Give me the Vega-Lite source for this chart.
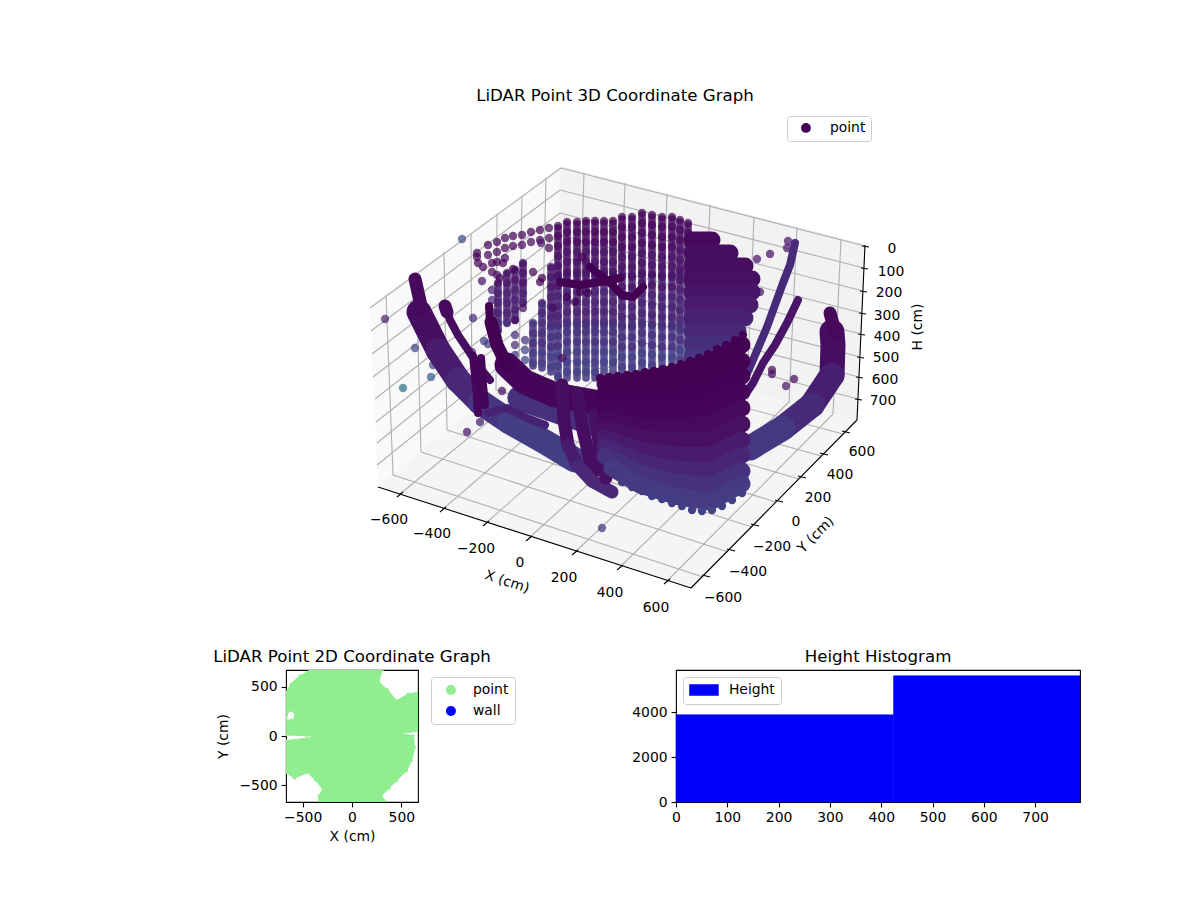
{"$schema":"https://vega.github.io/schema/vega-lite/v6.json","padding":{"left":212,"top":88,"right":0,"bottom":0},"background":"white","bounds":"flush","spacing":49,
"config":{"font":"DejaVu Sans","view":{"stroke":"black","strokeWidth":1.1},"axis":{"grid":false,"domain":false,"labelColor":"black","titleColor":"black","tickColor":"black","tickWidth":1.1,"tickSize":4.9,"labelFontSize":13.9,"titleFontSize":13.9,"titleFontWeight":"normal","labelPadding":4,"labelOverlap":false,"labelFlush":false},"legend":{"labelFontSize":13.9,"labelColor":"black","fillColor":"white","strokeColor":"#cccccc","cornerRadius":3,"title":null},"title":{"fontSize":16.67,"fontWeight":"normal","color":"black","anchor":"middle"}},
"datasets":{
"leftPane":[{"u":370,"v":307},{"u":561,"v":167},{"u":556,"v":341},{"u":378,"v":487}],
"backPane":[{"u":561,"v":167},{"u":865,"v":245},{"u":857,"v":420},{"u":556,"v":341}],
"floorPane":[{"u":378,"v":487},{"u":556,"v":341},{"u":857,"v":420},{"u":691,"v":588}],
"grid":[{"u":400,"v":494,"u2":579,"v2":347},{"u":443,"v":509,"u2":619,"v2":358},{"u":486,"v":523,"u2":661,"v2":369},{"u":529,"v":538,"u2":703,"v2":380},{"u":575,"v":552,"u2":747,"v2":391},{"u":620,"v":567,"u2":789,"v2":402},{"u":667,"v":581,"u2":833,"v2":414},
{"u":393,"v":475,"u2":703,"v2":577},{"u":421,"v":452,"u2":728,"v2":552},{"u":447,"v":430,"u2":752,"v2":527},{"u":472,"v":410,"u2":776,"v2":502},{"u":496,"v":390,"u2":799,"v2":479},{"u":519,"v":371,"u2":821,"v2":456},{"u":542,"v":353,"u2":843,"v2":434},
{"u":393,"v":475,"u2":386,"v2":295},{"u":421,"v":452,"u2":416,"v2":273},{"u":447,"v":430,"u2":444,"v2":252},{"u":472,"v":410,"u2":471,"v2":233},{"u":496,"v":390,"u2":497,"v2":214},{"u":519,"v":371,"u2":522,"v2":196},{"u":542,"v":353,"u2":546,"v2":178},
{"u":579,"v":347,"u2":584,"v2":173},{"u":619,"v":358,"u2":625,"v2":183},{"u":661,"v":369,"u2":667,"v2":194},{"u":703,"v":380,"u2":710,"v2":205},{"u":747,"v":391,"u2":754,"v2":217},{"u":789,"v":402,"u2":797,"v2":227},{"u":833,"v":414,"u2":841,"v2":239},
{"u":370,"v":308,"u2":561,"v2":168},{"u":371,"v":331,"u2":560,"v2":190},{"u":372,"v":354,"u2":560,"v2":213},{"u":373,"v":377,"u2":559,"v2":235},{"u":375,"v":399,"u2":558,"v2":256},{"u":376,"v":422,"u2":558,"v2":278},{"u":377,"v":443,"u2":557,"v2":298},{"u":377,"v":465,"u2":557,"v2":320},
{"u":561,"v":168,"u2":865,"v2":246},{"u":560,"v":190,"u2":864,"v2":268},{"u":560,"v":213,"u2":863,"v2":291},{"u":559,"v":235,"u2":862,"v2":313},{"u":558,"v":256,"u2":861,"v2":334},{"u":558,"v":278,"u2":860,"v2":357},{"u":557,"v":298,"u2":859,"v2":377},{"u":557,"v":320,"u2":858,"v2":399}],
"edges":[{"u":378,"v":487,"u2":691,"v2":588},{"u":691,"v":588,"u2":857,"v2":420},{"u":857,"v":420,"u2":865,"v2":245},
{"u":397,"v":497,"u2":403,"v2":492},{"u":440,"v":512,"u2":446,"v2":507},{"u":483,"v":526,"u2":489,"v2":521},{"u":526,"v":541,"u2":532,"v2":536},{"u":572,"v":555,"u2":578,"v2":550},{"u":617,"v":570,"u2":623,"v2":565},{"u":664,"v":584,"u2":670,"v2":579},
{"u":702,"v":575,"u2":710,"v2":577},{"u":727,"v":549,"u2":735,"v2":551},{"u":751,"v":524,"u2":759,"v2":526},{"u":775,"v":500,"u2":783,"v2":502},{"u":798,"v":476,"u2":806,"v2":478},{"u":820,"v":453,"u2":828,"v2":455},{"u":842,"v":431,"u2":850,"v2":433},
{"u":862,"v":246,"u2":869,"v2":247},{"u":861,"v":268,"u2":868,"v2":269},{"u":860,"v":291,"u2":867,"v2":292},{"u":859,"v":313,"u2":866,"v2":314},{"u":858,"v":334,"u2":865,"v2":335},{"u":857,"v":357,"u2":864,"v2":358},{"u":856,"v":377,"u2":863,"v2":378},{"u":855,"v":399,"u2":862,"v2":400}],
"ticks3d":[{"t":"−600","u":389,"v":520},{"t":"−400","u":432,"v":534},{"t":"−200","u":476,"v":549},{"t":"0","u":520,"v":563},{"t":"200","u":564,"v":578},{"t":"400","u":610,"v":593},{"t":"600","u":656,"v":608},
{"t":"600","u":862,"v":452},{"t":"400","u":840,"v":475},{"t":"200","u":818,"v":498},{"t":"0","u":796,"v":522},{"t":"−200","u":772,"v":547},{"t":"−400","u":748,"v":572},{"t":"−600","u":723,"v":598},
{"t":"0","u":892,"v":249},{"t":"100","u":891,"v":272},{"t":"200","u":889,"v":293},{"t":"300","u":887,"v":316},{"t":"400","u":887,"v":337},{"t":"500","u":886,"v":358},{"t":"600","u":885,"v":380},{"t":"700","u":883,"v":401}],
"cols":[
{"k":"558a","u":558,"v":228,"c":0.03},{"k":"558a","u":558,"v":275,"c":0.03},{"k":"558b","u":558,"v":275,"c":0.08},{"k":"558b","u":558,"v":325,"c":0.08},{"k":"558c","u":558,"v":325,"c":0.16},{"k":"558c","u":558,"v":378,"c":0.16},
{"k":"567a","u":567,"v":224,"c":0.03},{"k":"567a","u":567,"v":275,"c":0.03},{"k":"567b","u":567,"v":275,"c":0.08},{"k":"567b","u":567,"v":325,"c":0.08},{"k":"567c","u":567,"v":325,"c":0.16},{"k":"567c","u":567,"v":378,"c":0.16},
{"k":"577a","u":577,"v":224,"c":0.03},{"k":"577a","u":577,"v":275,"c":0.03},{"k":"577b","u":577,"v":275,"c":0.08},{"k":"577b","u":577,"v":325,"c":0.08},{"k":"577c","u":577,"v":325,"c":0.16},{"k":"577c","u":577,"v":378,"c":0.16},
{"k":"586a","u":586,"v":223,"c":0.03},{"k":"586a","u":586,"v":275,"c":0.03},{"k":"586b","u":586,"v":275,"c":0.08},{"k":"586b","u":586,"v":325,"c":0.08},{"k":"586c","u":586,"v":325,"c":0.16},{"k":"586c","u":586,"v":378,"c":0.16},
{"k":"595a","u":595,"v":223,"c":0.03},{"k":"595a","u":595,"v":275,"c":0.03},{"k":"595b","u":595,"v":275,"c":0.08},{"k":"595b","u":595,"v":325,"c":0.08},{"k":"595c","u":595,"v":325,"c":0.16},{"k":"595c","u":595,"v":378,"c":0.16},
{"k":"604a","u":604,"v":223,"c":0.03},{"k":"604a","u":604,"v":275,"c":0.03},{"k":"604b","u":604,"v":275,"c":0.08},{"k":"604b","u":604,"v":325,"c":0.08},{"k":"604c","u":604,"v":325,"c":0.16},{"k":"604c","u":604,"v":375,"c":0.16},
{"k":"613a","u":613,"v":223,"c":0.03},{"k":"613a","u":613,"v":275,"c":0.03},{"k":"613b","u":613,"v":275,"c":0.08},{"k":"613b","u":613,"v":325,"c":0.08},{"k":"613c","u":613,"v":325,"c":0.16},{"k":"613c","u":613,"v":375,"c":0.16},
{"k":"622a","u":622,"v":219,"c":0.03},{"k":"622a","u":622,"v":275,"c":0.03},{"k":"622b","u":622,"v":275,"c":0.08},{"k":"622b","u":622,"v":325,"c":0.08},{"k":"622c","u":622,"v":325,"c":0.16},{"k":"622c","u":622,"v":375,"c":0.16},
{"k":"632a","u":632,"v":219,"c":0.03},{"k":"632a","u":632,"v":275,"c":0.03},{"k":"632b","u":632,"v":275,"c":0.08},{"k":"632b","u":632,"v":325,"c":0.08},{"k":"632c","u":632,"v":325,"c":0.16},{"k":"632c","u":632,"v":375,"c":0.16},
{"k":"642a","u":642,"v":215,"c":0.03},{"k":"642a","u":642,"v":275,"c":0.03},{"k":"642b","u":642,"v":275,"c":0.08},{"k":"642b","u":642,"v":325,"c":0.08},{"k":"642c","u":642,"v":325,"c":0.16},{"k":"642c","u":642,"v":372,"c":0.16},
{"k":"652a","u":652,"v":217,"c":0.03},{"k":"652a","u":652,"v":275,"c":0.03},{"k":"652b","u":652,"v":275,"c":0.08},{"k":"652b","u":652,"v":325,"c":0.08},{"k":"652c","u":652,"v":325,"c":0.16},{"k":"652c","u":652,"v":372,"c":0.16},
{"k":"662a","u":662,"v":219,"c":0.03},{"k":"662a","u":662,"v":275,"c":0.03},{"k":"662b","u":662,"v":275,"c":0.08},{"k":"662b","u":662,"v":325,"c":0.08},{"k":"662c","u":662,"v":325,"c":0.16},{"k":"662c","u":662,"v":372,"c":0.16},
{"k":"672a","u":672,"v":219,"c":0.03},{"k":"672a","u":672,"v":275,"c":0.03},{"k":"672b","u":672,"v":275,"c":0.08},{"k":"672b","u":672,"v":325,"c":0.08},{"k":"672c","u":672,"v":325,"c":0.16},{"k":"672c","u":672,"v":368,"c":0.16},
{"k":"680a","u":680,"v":222,"c":0.03},{"k":"680a","u":680,"v":275,"c":0.03},{"k":"680b","u":680,"v":275,"c":0.08},{"k":"680b","u":680,"v":325,"c":0.08},{"k":"680c","u":680,"v":325,"c":0.16},{"k":"680c","u":680,"v":365,"c":0.16},
{"k":"688a","u":688,"v":225,"c":0.03},{"k":"688a","u":688,"v":275,"c":0.03},{"k":"688b","u":688,"v":275,"c":0.08},{"k":"688b","u":688,"v":325,"c":0.08},{"k":"688c","u":688,"v":325,"c":0.16},{"k":"688c","u":688,"v":362,"c":0.16},
{"k":"551a","u":551,"v":268,"c":0.06},{"k":"551a","u":551,"v":325,"c":0.06},{"k":"551b","u":551,"v":325,"c":0.16},{"k":"551b","u":551,"v":372,"c":0.16},{"k":"542","u":542,"v":304,"c":0.13},{"k":"542","u":542,"v":368,"c":0.13},{"k":"533","u":533,"v":324,"c":0.15},{"k":"533","u":533,"v":366,"c":0.15},
{"k":"523","u":523,"v":264,"c":0.06},{"k":"523","u":523,"v":303,"c":0.06},{"k":"515","u":515,"v":271,"c":0.07},{"k":"515","u":515,"v":320,"c":0.07},{"k":"507","u":507,"v":274,"c":0.07},{"k":"507","u":507,"v":323,"c":0.07},{"k":"498","u":498,"v":284,"c":0.09},{"k":"498","u":498,"v":330,"c":0.09}],
"pts1":[
{"u":558,"v":226,"c":0.02},{"u":558,"v":236,"c":0.02},{"u":558,"v":246,"c":0.02},{"u":558,"v":256,"c":0.05},{"u":558,"v":266,"c":0.05},{"u":558,"v":276,"c":0.05},{"u":558,"v":286,"c":0.05},{"u":558,"v":296,"c":0.09},{"u":558,"v":306,"c":0.09},{"u":558,"v":316,"c":0.09},{"u":558,"v":326,"c":0.13},{"u":558,"v":336,"c":0.13},{"u":558,"v":346,"c":0.13},{"u":558,"v":356,"c":0.18},{"u":558,"v":366,"c":0.18},{"u":558,"v":376,"c":0.18},
{"u":567,"v":222,"c":0.02},{"u":567,"v":232,"c":0.02},{"u":567,"v":242,"c":0.02},{"u":567,"v":252,"c":0.05},{"u":567,"v":262,"c":0.05},{"u":567,"v":272,"c":0.05},{"u":567,"v":282,"c":0.05},{"u":567,"v":292,"c":0.09},{"u":567,"v":302,"c":0.09},{"u":567,"v":312,"c":0.09},{"u":567,"v":322,"c":0.13},{"u":567,"v":332,"c":0.13},{"u":567,"v":342,"c":0.13},{"u":567,"v":352,"c":0.18},{"u":567,"v":362,"c":0.18},{"u":567,"v":372,"c":0.18},
{"u":577,"v":222,"c":0.02},{"u":577,"v":232,"c":0.02},{"u":577,"v":242,"c":0.02},{"u":577,"v":252,"c":0.05},{"u":577,"v":262,"c":0.05},{"u":577,"v":272,"c":0.05},{"u":577,"v":282,"c":0.05},{"u":577,"v":292,"c":0.09},{"u":577,"v":302,"c":0.09},{"u":577,"v":312,"c":0.09},{"u":577,"v":322,"c":0.13},{"u":577,"v":332,"c":0.13},{"u":577,"v":342,"c":0.13},{"u":577,"v":352,"c":0.18},{"u":577,"v":362,"c":0.18},{"u":577,"v":372,"c":0.18},
{"u":586,"v":221,"c":0.02},{"u":586,"v":232,"c":0.02},{"u":586,"v":242,"c":0.02},{"u":586,"v":252,"c":0.05},{"u":586,"v":262,"c":0.05},{"u":586,"v":272,"c":0.05},{"u":586,"v":282,"c":0.05},{"u":586,"v":292,"c":0.09},{"u":586,"v":302,"c":0.09},{"u":586,"v":312,"c":0.09},{"u":586,"v":322,"c":0.13},{"u":586,"v":332,"c":0.13},{"u":586,"v":342,"c":0.13},{"u":586,"v":352,"c":0.18},{"u":586,"v":362,"c":0.18},{"u":586,"v":372,"c":0.18},
{"u":595,"v":221,"c":0.02},{"u":595,"v":232,"c":0.02},{"u":595,"v":242,"c":0.02},{"u":595,"v":252,"c":0.05},{"u":595,"v":262,"c":0.05},{"u":595,"v":272,"c":0.05},{"u":595,"v":282,"c":0.05},{"u":595,"v":292,"c":0.09},{"u":595,"v":302,"c":0.09},{"u":595,"v":312,"c":0.09},{"u":595,"v":322,"c":0.13},{"u":595,"v":332,"c":0.13},{"u":595,"v":342,"c":0.13},{"u":595,"v":352,"c":0.18},{"u":595,"v":362,"c":0.18},{"u":595,"v":372,"c":0.18},
{"u":604,"v":221,"c":0.02},{"u":604,"v":232,"c":0.02},{"u":604,"v":242,"c":0.02},{"u":604,"v":252,"c":0.05},{"u":604,"v":262,"c":0.05},{"u":604,"v":272,"c":0.05},{"u":604,"v":282,"c":0.05},{"u":604,"v":292,"c":0.09},{"u":604,"v":302,"c":0.09},{"u":604,"v":312,"c":0.09},{"u":604,"v":322,"c":0.13},{"u":604,"v":332,"c":0.13},{"u":604,"v":342,"c":0.13},{"u":604,"v":352,"c":0.18},{"u":604,"v":362,"c":0.18},
{"u":613,"v":221,"c":0.02},{"u":613,"v":232,"c":0.02},{"u":613,"v":242,"c":0.02},{"u":613,"v":252,"c":0.05},{"u":613,"v":262,"c":0.05},{"u":613,"v":272,"c":0.05},{"u":613,"v":282,"c":0.05},{"u":613,"v":292,"c":0.09},{"u":613,"v":302,"c":0.09},{"u":613,"v":312,"c":0.09},{"u":613,"v":322,"c":0.13},{"u":613,"v":332,"c":0.13},{"u":613,"v":342,"c":0.13},{"u":613,"v":352,"c":0.18},{"u":613,"v":362,"c":0.18},
{"u":622,"v":217,"c":0.02},{"u":622,"v":227,"c":0.02},{"u":622,"v":237,"c":0.02},{"u":622,"v":247,"c":0.02},{"u":622,"v":257,"c":0.05},{"u":622,"v":267,"c":0.05},{"u":622,"v":277,"c":0.05},{"u":622,"v":287,"c":0.05},{"u":622,"v":297,"c":0.09},{"u":622,"v":307,"c":0.09},{"u":622,"v":317,"c":0.09},{"u":622,"v":327,"c":0.13},{"u":622,"v":337,"c":0.13},{"u":622,"v":347,"c":0.13},{"u":622,"v":357,"c":0.18},{"u":622,"v":367,"c":0.18},
{"u":632,"v":217,"c":0.02},{"u":632,"v":227,"c":0.02},{"u":632,"v":237,"c":0.02},{"u":632,"v":247,"c":0.02},{"u":632,"v":257,"c":0.05},{"u":632,"v":267,"c":0.05},{"u":632,"v":277,"c":0.05},{"u":632,"v":287,"c":0.05},{"u":632,"v":297,"c":0.09},{"u":632,"v":307,"c":0.09},{"u":632,"v":317,"c":0.09},{"u":632,"v":327,"c":0.13},{"u":632,"v":337,"c":0.13},{"u":632,"v":347,"c":0.13},{"u":632,"v":357,"c":0.18},{"u":632,"v":367,"c":0.18},
{"u":642,"v":213,"c":0.02},{"u":642,"v":223,"c":0.02},{"u":642,"v":233,"c":0.02},{"u":642,"v":243,"c":0.02},{"u":642,"v":253,"c":0.05},{"u":642,"v":263,"c":0.05},{"u":642,"v":273,"c":0.05},{"u":642,"v":283,"c":0.05},{"u":642,"v":293,"c":0.09},{"u":642,"v":303,"c":0.09},{"u":642,"v":313,"c":0.09},{"u":642,"v":323,"c":0.13},{"u":642,"v":333,"c":0.13},{"u":642,"v":343,"c":0.13},{"u":642,"v":353,"c":0.18},{"u":642,"v":363,"c":0.18},
{"u":652,"v":215,"c":0.02},{"u":652,"v":225,"c":0.02},{"u":652,"v":235,"c":0.02},{"u":652,"v":245,"c":0.02},{"u":652,"v":255,"c":0.05},{"u":652,"v":265,"c":0.05},{"u":652,"v":275,"c":0.05},{"u":652,"v":285,"c":0.05},{"u":652,"v":295,"c":0.09},{"u":652,"v":305,"c":0.09},{"u":652,"v":315,"c":0.09},{"u":652,"v":325,"c":0.13},{"u":652,"v":335,"c":0.13},{"u":652,"v":345,"c":0.13},{"u":652,"v":355,"c":0.18},{"u":652,"v":365,"c":0.18},
{"u":662,"v":217,"c":0.02},{"u":662,"v":227,"c":0.02},{"u":662,"v":237,"c":0.02},{"u":662,"v":247,"c":0.02},{"u":662,"v":257,"c":0.05},{"u":662,"v":267,"c":0.05},{"u":662,"v":277,"c":0.05},{"u":662,"v":287,"c":0.05},{"u":662,"v":297,"c":0.09},{"u":662,"v":307,"c":0.09},{"u":662,"v":317,"c":0.09},{"u":662,"v":327,"c":0.13},{"u":662,"v":337,"c":0.13},{"u":662,"v":347,"c":0.13},{"u":662,"v":357,"c":0.18},
{"u":672,"v":217,"c":0.02},{"u":672,"v":227,"c":0.02},{"u":672,"v":237,"c":0.02},{"u":672,"v":247,"c":0.02},{"u":672,"v":257,"c":0.05},{"u":672,"v":267,"c":0.05},{"u":672,"v":277,"c":0.05},{"u":672,"v":287,"c":0.05},{"u":672,"v":297,"c":0.09},{"u":672,"v":307,"c":0.09},{"u":672,"v":317,"c":0.09},{"u":672,"v":327,"c":0.13},{"u":672,"v":337,"c":0.13},{"u":672,"v":347,"c":0.13},{"u":672,"v":357,"c":0.18},
{"u":680,"v":220,"c":0.02},{"u":680,"v":230,"c":0.02},{"u":680,"v":240,"c":0.02},{"u":680,"v":250,"c":0.05},{"u":680,"v":260,"c":0.05},{"u":680,"v":270,"c":0.05},{"u":680,"v":280,"c":0.05},{"u":680,"v":290,"c":0.09},{"u":680,"v":300,"c":0.09},{"u":680,"v":310,"c":0.09},{"u":680,"v":320,"c":0.13},{"u":680,"v":330,"c":0.13},{"u":680,"v":340,"c":0.13},{"u":680,"v":350,"c":0.18},{"u":680,"v":360,"c":0.18},
{"u":688,"v":223,"c":0.02},{"u":688,"v":233,"c":0.02},{"u":688,"v":243,"c":0.02},{"u":688,"v":253,"c":0.05},{"u":688,"v":263,"c":0.05},{"u":688,"v":273,"c":0.05},{"u":688,"v":283,"c":0.05},{"u":688,"v":293,"c":0.09},{"u":688,"v":303,"c":0.09},{"u":688,"v":313,"c":0.09},{"u":688,"v":323,"c":0.13},{"u":688,"v":333,"c":0.13},{"u":688,"v":343,"c":0.13},{"u":688,"v":353,"c":0.18},
{"u":551,"v":267,"c":0.05},{"u":551,"v":277,"c":0.05},{"u":551,"v":287,"c":0.05},{"u":551,"v":297,"c":0.09},{"u":551,"v":307,"c":0.09},{"u":551,"v":317,"c":0.09},{"u":551,"v":327,"c":0.13},{"u":551,"v":337,"c":0.13},{"u":551,"v":347,"c":0.13},{"u":551,"v":357,"c":0.18},{"u":551,"v":367,"c":0.18},
{"u":542,"v":303,"c":0.09},{"u":542,"v":313,"c":0.09},{"u":542,"v":323,"c":0.13},{"u":542,"v":333,"c":0.13},{"u":542,"v":343,"c":0.13},{"u":542,"v":353,"c":0.18},{"u":542,"v":363,"c":0.18},{"u":533,"v":323,"c":0.13},{"u":533,"v":333,"c":0.13},{"u":533,"v":343,"c":0.13},{"u":533,"v":353,"c":0.18},{"u":533,"v":363,"c":0.18},
{"u":525,"v":340,"c":0.13},{"u":525,"v":350,"c":0.18},{"u":525,"v":360,"c":0.18},{"u":515,"v":335,"c":0.13},{"u":515,"v":345,"c":0.13},{"u":515,"v":355,"c":0.18},
{"u":523,"v":263,"c":0.05},{"u":523,"v":273,"c":0.05},{"u":523,"v":283,"c":0.05},{"u":523,"v":293,"c":0.09},{"u":523,"v":303,"c":0.09},{"u":515,"v":270,"c":0.05},{"u":515,"v":280,"c":0.05},{"u":515,"v":290,"c":0.09},{"u":515,"v":300,"c":0.09},{"u":515,"v":310,"c":0.09},{"u":515,"v":320,"c":0.13},
{"u":507,"v":273,"c":0.05},{"u":507,"v":283,"c":0.05},{"u":507,"v":293,"c":0.09},{"u":507,"v":303,"c":0.09},{"u":507,"v":313,"c":0.09},{"u":507,"v":323,"c":0.13},{"u":498,"v":283,"c":0.05},{"u":498,"v":293,"c":0.09},{"u":498,"v":303,"c":0.09},{"u":498,"v":313,"c":0.09},{"u":498,"v":323,"c":0.13},{"u":498,"v":331,"c":0.13},{"u":492,"v":290,"c":0.09},{"u":492,"v":300,"c":0.09},{"u":492,"v":312,"c":0.09},
{"u":488,"v":245,"c":0.01},{"u":488,"v":255,"c":0.02},{"u":497,"v":242,"c":0.01},{"u":497,"v":252,"c":0.02},{"u":497,"v":262,"c":0.03},{"u":505,"v":238,"c":0.01},{"u":505,"v":248,"c":0.02},{"u":505,"v":258,"c":0.03},{"u":513,"v":236,"c":0.01},{"u":513,"v":246,"c":0.02},{"u":522,"v":235,"c":0.01},{"u":522,"v":245,"c":0.02},{"u":531,"v":232,"c":0.01},{"u":531,"v":242,"c":0.02},{"u":540,"v":230,"c":0.01},{"u":540,"v":240,"c":0.02},{"u":549,"v":228,"c":0.01},{"u":549,"v":238,"c":0.01},{"u":549,"v":248,"c":0.02},
{"u":477,"v":253,"c":0.01},{"u":477,"v":257,"c":0.01},{"u":478,"v":263,"c":0.02},{"u":483,"v":267,"c":0.02},{"u":492,"v":263,"c":0.01},{"u":503,"v":263,"c":0.01},{"u":492,"v":272,"c":0.02},{"u":497,"v":275,"c":0.02},{"u":482,"v":281,"c":0.05},{"u":500,"v":278,"c":0.02},{"u":513,"v":269,"c":0.01},{"u":533,"v":272,"c":0.01},{"u":542,"v":278,"c":0.0},{"u":540,"v":282,"c":0.0},{"u":523,"v":308,"c":0.03},{"u":553,"v":308,"c":0.03},{"u":515,"v":320,"c":0.04},{"u":562,"v":358,"c":0.05},{"u":582,"v":257,"c":0.0},{"u":560,"v":282,"c":0.0},{"u":567,"v":297,"c":0.0},{"u":575,"v":302,"c":0.0},{"u":580,"v":292,"c":0.0},{"u":588,"v":293,"c":0.0},
{"u":462,"v":239,"c":0.22},{"u":385,"v":319,"c":0.1},{"u":415,"v":348,"c":0.2},{"u":473,"v":318,"c":0.12},{"u":484,"v":341,"c":0.18},{"u":488,"v":344,"c":0.18},{"u":403,"v":388,"c":0.38},{"u":431,"v":377,"c":0.3},{"u":433,"v":322,"c":0.2},{"u":433,"v":365,"c":0.2},{"u":472,"v":352,"c":0.15},{"u":467,"v":432,"c":0.05},{"u":480,"v":422,"c":0.07},{"u":502,"v":391,"c":0.03},{"u":490,"v":405,"c":0.05},{"u":602,"v":528,"c":0.14},{"u":788,"v":241,"c":0.05},{"u":787,"v":248,"c":0.05},{"u":770,"v":254,"c":0.05},{"u":757,"v":259,"c":0.05},{"u":747,"v":263,"c":0.05},{"u":760,"v":292,"c":0.04},{"u":772,"v":370,"c":0.03},{"u":772,"v":374,"c":0.03},{"u":786,"v":386,"c":0.06},{"u":794,"v":379,"c":0.03},{"u":541,"v":243,"c":0.05}],
"thin":[
{"k":"a1","u":795,"v":243,"c":0.12},{"k":"a1","u":790,"v":265,"c":0.12},{"k":"a1","u":783,"v":283,"c":0.12},{"k":"a1","u":775,"v":305,"c":0.12},{"k":"a1","u":767,"v":327,"c":0.12},{"k":"a1","u":753,"v":360,"c":0.12},{"k":"a1","u":745,"v":378,"c":0.12},
{"k":"a2","u":798,"v":300,"c":0.05},{"k":"a2","u":787,"v":323,"c":0.05},{"k":"a2","u":775,"v":345,"c":0.05},{"k":"a2","u":763,"v":363,"c":0.05},{"k":"a2","u":753,"v":383,"c":0.05},{"k":"a2","u":745,"v":395,"c":0.05},
{"k":"a3","u":445,"v":305,"c":0.03},{"k":"a3","u":450,"v":320,"c":0.03},{"k":"a3","u":458,"v":335,"c":0.03},{"k":"a3","u":470,"v":353,"c":0.03},{"k":"a3","u":480,"v":368,"c":0.03},{"k":"a3","u":490,"v":380,"c":0.03},
{"k":"c1","u":473,"v":356,"c":0.01},{"k":"c1","u":476,"v":385,"c":0.01},{"k":"c1","u":478,"v":413,"c":0.01},{"k":"c2","u":481,"v":358,"c":0.01},{"k":"c2","u":483,"v":385,"c":0.01},{"k":"c2","u":485,"v":405,"c":0.01},
{"k":"w1","u":489,"v":306,"c":0.0},{"k":"w1","u":490,"v":322,"c":0.0},
{"k":"n1","u":488,"v":413,"c":0.09},{"k":"n1","u":507,"v":408,"c":0.09},{"k":"n1","u":527,"v":418,"c":0.09},{"k":"n1","u":545,"v":425,"c":0.09},
{"k":"t1","u":590,"v":267,"c":0.0},{"k":"t1","u":600,"v":275,"c":0.0},{"k":"t1","u":610,"v":283,"c":0.0},{"k":"t1","u":622,"v":295,"c":0.0},{"k":"t1","u":633,"v":297,"c":0.0},{"k":"t1","u":643,"v":287,"c":0.0},
{"k":"t2","u":560,"v":282,"c":0.0},{"k":"t2","u":580,"v":285,"c":0.0},{"k":"t2","u":600,"v":282,"c":0.0},{"k":"t2","u":620,"v":278,"c":0.0}],
"mid":[
{"k":"m1","u":491,"v":322,"c":0.0},{"k":"m1","u":497,"v":345,"c":0.0},{"k":"m1","u":507,"v":365,"c":0.0},
{"k":"m3","u":577,"v":393,"c":0.03},{"k":"m3","u":583,"v":430,"c":0.03},{"k":"m3","u":593,"v":473,"c":0.03},
{"k":"m4a","u":562,"v":385,"c":0.03},{"k":"m4a","u":564,"v":420,"c":0.03},{"k":"m4a","u":568,"v":445,"c":0.03},{"k":"m4b","u":568,"v":445,"c":0.07},{"k":"m4b","u":578,"v":466,"c":0.07},{"k":"m4c","u":578,"v":466,"c":0.11},{"k":"m4c","u":592,"v":481,"c":0.11},{"k":"m4c","u":612,"v":492,"c":0.11},
{"k":"m5","u":595,"v":415,"c":0.04},{"k":"m5","u":600,"v":450,"c":0.04},{"k":"m5","u":606,"v":478,"c":0.04},
{"k":"m6","u":415,"v":279,"c":0.02},{"k":"m6","u":422,"v":310,"c":0.02},{"k":"m7","u":445,"v":306,"c":0.02},{"k":"m7","u":447,"v":312,"c":0.02},{"k":"m8","u":830,"v":313,"c":0.02},{"k":"m8","u":836,"v":335,"c":0.02}],
"wide":[
{"k":"b1","u":419,"v":312,"c":0.03},{"k":"b1","u":438,"v":350,"c":0.03},
{"k":"b2","u":438,"v":350,"c":0.07},{"k":"b2","u":458,"v":380,"c":0.07},
{"k":"b3","u":458,"v":380,"c":0.11},{"k":"b3","u":480,"v":402,"c":0.11},
{"k":"b4","u":480,"v":402,"c":0.15},{"k":"b4","u":510,"v":422,"c":0.15},
{"k":"b5","u":510,"v":422,"c":0.18},{"k":"b5","u":545,"v":442,"c":0.18},{"k":"b5","u":575,"v":460,"c":0.18},
{"k":"r1","u":832,"v":332,"c":0.03},{"k":"r1","u":833,"v":345,"c":0.03},{"k":"r1","u":832,"v":375,"c":0.03},
{"k":"r2","u":832,"v":375,"c":0.08},{"k":"r2","u":812,"v":405,"c":0.08},
{"k":"r3","u":812,"v":405,"c":0.12},{"k":"r3","u":783,"v":428,"c":0.12},
{"k":"r4","u":783,"v":428,"c":0.16},{"k":"r4","u":750,"v":448,"c":0.16},
{"k":"m2","u":520,"v":398,"c":0.14},{"k":"m2","u":560,"v":412,"c":0.14},{"k":"m2","u":600,"v":425,"c":0.14},
{"k":"w2","u":507,"v":365,"c":0.01},{"k":"w2","u":525,"v":382,"c":0.01},{"k":"w2","u":555,"v":395,"c":0.01},{"k":"w2","u":600,"v":403,"c":0.01}],
"rings":[
{"k":"s1","u":692,"v":240,"c":0.02},{"k":"s1","u":712,"v":240,"c":0.02},{"k":"s2","u":692,"v":253,"c":0.03},{"k":"s2","u":730,"v":253,"c":0.03},{"k":"s3","u":692,"v":266,"c":0.03},{"k":"s3","u":745,"v":266,"c":0.03},{"k":"s4","u":692,"v":279,"c":0.04},{"k":"s4","u":752,"v":279,"c":0.04},{"k":"s5","u":692,"v":292,"c":0.05},{"k":"s5","u":752,"v":292,"c":0.05},{"k":"s6","u":692,"v":305,"c":0.07},{"k":"s6","u":750,"v":305,"c":0.07},{"k":"s7","u":692,"v":318,"c":0.09},{"k":"s7","u":745,"v":318,"c":0.09},{"k":"s8","u":692,"v":331,"c":0.11},{"k":"s8","u":738,"v":331,"c":0.11},{"k":"s9","u":692,"v":344,"c":0.13},{"k":"s9","u":725,"v":344,"c":0.13},{"k":"s10","u":692,"v":357,"c":0.15},{"k":"s10","u":712,"v":357,"c":0.15},
{"k":"f1","u":605,"v":384,"c":0.0},{"k":"f1","u":640,"v":380,"c":0.0},{"k":"f1","u":675,"v":373,"c":0.0},{"k":"f1","u":710,"v":362,"c":0.0},{"k":"f1","u":742,"v":345,"c":0.0},
{"k":"f2","u":605,"v":393,"c":0.0},{"k":"f2","u":640,"v":391,"c":0.0},{"k":"f2","u":675,"v":386,"c":0.0},{"k":"f2","u":710,"v":377,"c":0.0},{"k":"f2","u":742,"v":361,"c":0.0},
{"k":"f3","u":605,"v":402,"c":0.005},{"k":"f3","u":640,"v":403,"c":0.005},{"k":"f3","u":675,"v":400,"c":0.005},{"k":"f3","u":710,"v":393,"c":0.005},{"k":"f3","u":742,"v":376,"c":0.005},
{"k":"f4","u":605,"v":411,"c":0.01},{"k":"f4","u":640,"v":415,"c":0.01},{"k":"f4","u":675,"v":414,"c":0.01},{"k":"f4","u":710,"v":408,"c":0.01},{"k":"f4","u":742,"v":392,"c":0.01},
{"k":"f5","u":605,"v":420,"c":0.02},{"k":"f5","u":640,"v":426,"c":0.02},{"k":"f5","u":675,"v":427,"c":0.02},{"k":"f5","u":710,"v":424,"c":0.02},{"k":"f5","u":742,"v":408,"c":0.02},
{"k":"f6","u":605,"v":429,"c":0.04},{"k":"f6","u":640,"v":438,"c":0.04},{"k":"f6","u":675,"v":441,"c":0.04},{"k":"f6","u":710,"v":440,"c":0.04},{"k":"f6","u":742,"v":424,"c":0.04},
{"k":"f7","u":605,"v":438,"c":0.07},{"k":"f7","u":640,"v":450,"c":0.07},{"k":"f7","u":675,"v":455,"c":0.07},{"k":"f7","u":710,"v":455,"c":0.07},{"k":"f7","u":742,"v":440,"c":0.07},
{"k":"f8","u":605,"v":447,"c":0.1},{"k":"f8","u":640,"v":462,"c":0.1},{"k":"f8","u":675,"v":469,"c":0.1},{"k":"f8","u":710,"v":471,"c":0.1},{"k":"f8","u":742,"v":455,"c":0.1},
{"k":"f9","u":605,"v":456,"c":0.14},{"k":"f9","u":640,"v":473,"c":0.14},{"k":"f9","u":675,"v":482,"c":0.14},{"k":"f9","u":710,"v":486,"c":0.14},{"k":"f9","u":742,"v":471,"c":0.14},
{"k":"f10","u":612,"v":468,"c":0.17},{"k":"f10","u":640,"v":485,"c":0.17},{"k":"f10","u":675,"v":496,"c":0.17},{"k":"f10","u":710,"v":502,"c":0.17},{"k":"f10","u":742,"v":484,"c":0.17}],
"pts2":[
{"u":600,"v":378,"c":0},{"u":609,"v":377,"c":0},{"u":618,"v":376,"c":0},{"u":627,"v":375,"c":0},{"u":636,"v":374,"c":0},{"u":645,"v":372,"c":0},{"u":654,"v":371,"c":0},{"u":663,"v":369,"c":0},{"u":672,"v":367,"c":0},{"u":681,"v":364,"c":0},{"u":690,"v":361,"c":0},{"u":699,"v":358,"c":0},{"u":708,"v":354,"c":0},{"u":717,"v":349,"c":0},{"u":726,"v":345,"c":0},{"u":735,"v":340,"c":0},{"u":743,"v":335,"c":0},
{"u":612,"v":472,"c":0.15},{"u":622,"v":482,"c":0.17},{"u":632,"v":487,"c":0.17},{"u":642,"v":491,"c":0.17},{"u":652,"v":496,"c":0.18},{"u":662,"v":499,"c":0.18},{"u":672,"v":503,"c":0.18},{"u":682,"v":506,"c":0.18},{"u":692,"v":510,"c":0.19},{"u":702,"v":511,"c":0.2},{"u":712,"v":510,"c":0.2},{"u":722,"v":506,"c":0.19},{"u":732,"v":500,"c":0.18},{"u":742,"v":493,"c":0.18},{"u":745,"v":480,"c":0.17}],
"scan":[{"x":-431,"y":671},{"x":308,"y":671},{"x":271,"y":546},{"x":360,"y":470},{"x":451,"y":359},{"x":570,"y":427},{"x":671,"y":444},{"x":671,"y":47},{"x":485,"y":27},{"x":620,"y":3},{"x":637,"y":-115},{"x":603,"y":-251},{"x":553,"y":-353},{"x":451,"y":-454},{"x":375,"y":-530},{"x":298,"y":-607},{"x":349,"y":-671},{"x":-339,"y":-671},{"x":-336,"y":-607},{"x":-295,"y":-539},{"x":-370,"y":-450},{"x":-447,"y":-370},{"x":-583,"y":-427},{"x":-668,"y":-370},{"x":-668,"y":-47},{"x":-346,"y":-7},{"x":-464,"y":3},{"x":-668,"y":10},{"x":-668,"y":156},{"x":-583,"y":173},{"x":-583,"y":241},{"x":-640,"y":258},{"x":-668,"y":170},{"x":-668,"y":444},{"x":-617,"y":529},{"x":-530,"y":610}],
"hist":[{"a":0,"b":424,"n":3880},{"a":424,"b":787.5,"n":5613}]
},
"vconcat":[
{"width":658,"height":515,"view":{"stroke":null},
"title":{"text":"LiDAR Point 3D Coordinate Graph","offset":1},
"encoding":{"x":{"field":"u","type":"quantitative","axis":null,"scale":{"domain":[286,944],"nice":false,"zero":false}},"y":{"field":"v","type":"quantitative","axis":null,"scale":{"domain":[621,106],"nice":false,"zero":false}},"order":{"value":null}},
"layer":[
{"data":{"name":"leftPane"},"mark":{"type":"line","fill":"#f9f9f9","stroke":"#f2f2f2","strokeWidth":1}},
{"data":{"name":"backPane"},"mark":{"type":"line","fill":"#f2f2f2","stroke":"#ececec","strokeWidth":1}},
{"data":{"name":"floorPane"},"mark":{"type":"line","fill":"#f5f5f5","stroke":"#f5f5f5","strokeWidth":1}},
{"data":{"name":"grid"},"mark":{"type":"rule","color":"#b0b0b0","strokeWidth":1.1},"encoding":{"x2":{"field":"u2"},"y2":{"field":"v2"}}},
{"data":{"name":"edges"},"mark":{"type":"rule","color":"black","strokeWidth":1.1},"encoding":{"x2":{"field":"u2"},"y2":{"field":"v2"}}},
{"data":{"name":"ticks3d"},"mark":{"type":"text","fontSize":13.9,"color":"black"},"encoding":{"text":{"field":"t"}}},
{"data":{"values":[{"t":"X (cm)","u":507,"v":582}]},"mark":{"type":"text","fontSize":13.9,"color":"black","angle":18},"encoding":{"text":{"field":"t"}}},
{"data":{"values":[{"t":"Y (cm)","u":816,"v":535}]},"mark":{"type":"text","fontSize":13.9,"color":"black","angle":315},"encoding":{"text":{"field":"t"}}},
{"data":{"values":[{"t":"H (cm)","u":918,"v":327}]},"mark":{"type":"text","fontSize":13.9,"color":"black","angle":270},"encoding":{"text":{"field":"t"}}},
{"data":{"name":"cols"},"mark":{"type":"line","strokeWidth":7.5,"strokeCap":"round","opacity":0.85},"encoding":{"detail":{"field":"k"},"color":{"field":"c","type":"quantitative","scale":{"scheme":"viridis","domain":[0,1]},"legend":null}}},
{"data":{"name":"pts1"},"mark":{"type":"point","filled":true,"size":69,"opacity":0.72},"encoding":{"color":{"field":"c","type":"quantitative","legend":null},"shape":{"datum":"point","type":"nominal","scale":{"domain":["point"],"range":["circle"]},"legend":{"orient":"none","legendX":501,"legendY":10,"padding":5,"symbolOffset":7,"labelOffset":17,"symbolSize":69,"symbolFillColor":"#440154","symbolStrokeColor":"#440154","symbolOpacity":1}}}},
{"data":{"name":"wide"},"mark":{"type":"line","strokeWidth":25,"strokeCap":"round","strokeJoin":"round"},"encoding":{"detail":{"field":"k"},"color":{"field":"c","type":"quantitative","legend":null}}},
{"data":{"name":"thin"},"mark":{"type":"line","strokeWidth":8,"strokeCap":"round","strokeJoin":"round"},"encoding":{"detail":{"field":"k"},"color":{"field":"c","type":"quantitative","legend":null}}},
{"data":{"name":"mid"},"mark":{"type":"line","strokeWidth":13,"strokeCap":"round","strokeJoin":"round"},"encoding":{"detail":{"field":"k"},"color":{"field":"c","type":"quantitative","legend":null}}},
{"data":{"name":"rings"},"mark":{"type":"line","strokeWidth":17,"strokeCap":"round","strokeJoin":"round"},"encoding":{"detail":{"field":"k"},"color":{"field":"c","type":"quantitative","legend":null}}},
{"data":{"name":"pts2"},"mark":{"type":"point","filled":true,"size":69,"opacity":1},"encoding":{"color":{"field":"c","type":"quantitative","legend":null}}}
]},
{"bounds":"flush","spacing":258,"resolve":{"scale":{"color":"independent"},"legend":{"color":"independent"}},"hconcat":[
{"width":132,"height":132,"title":{"text":"LiDAR Point 2D Coordinate Graph","offset":4},
"data":{"name":"scan"},
"encoding":{"x":{"field":"x","type":"quantitative","title":"X (cm)","scale":{"domain":[-669,669],"nice":false},"axis":{"values":[-500,0,500],"titlePadding":5}},"y":{"field":"y","type":"quantitative","title":"Y (cm)","scale":{"domain":[-669,669],"nice":false},"axis":{"values":[-500,0,500],"titlePadding":8}},"order":{"value":null}},
"layer":[
{"mark":{"type":"line","fill":"lightgreen","stroke":"lightgreen","strokeWidth":1,"clip":true}},
{"mark":{"type":"point","filled":true,"size":8,"opacity":1,"clip":true},"encoding":{"color":{"datum":"point","type":"nominal","scale":{"domain":["point","wall"],"range":["lightgreen","blue"]},"legend":{"orient":"none","legendX":145,"legendY":7,"padding":6,"symbolType":"circle","symbolOffset":7,"labelOffset":15,"symbolSize":100,"rowPadding":6}}}}
]},
{"width":404,"height":132,"title":{"text":"Height Histogram","offset":4},
"data":{"name":"hist"},
"mark":{"type":"rect","stroke":"blue","strokeWidth":0.5},
"encoding":{"x":{"field":"a","type":"quantitative","title":null,"scale":{"domain":[0,787.5],"nice":false},"axis":{"values":[0,100,200,300,400,500,600,700]}},"x2":{"field":"b"},"y":{"field":"n","type":"quantitative","title":null,"scale":{"domain":[0,5867],"nice":false},"axis":{"values":[0,2000,4000],"format":"d"}},"y2":{"datum":0},"color":{"datum":"Height","type":"nominal","scale":{"domain":["Height"],"range":["blue"]},"legend":{"orient":"none","legendX":7,"legendY":7,"padding":6,"symbolType":"M-2.8,-1H2.8V1H-2.8Z","symbolSize":100,"symbolOffset":8,"labelOffset":18}}}}
]}
]}
